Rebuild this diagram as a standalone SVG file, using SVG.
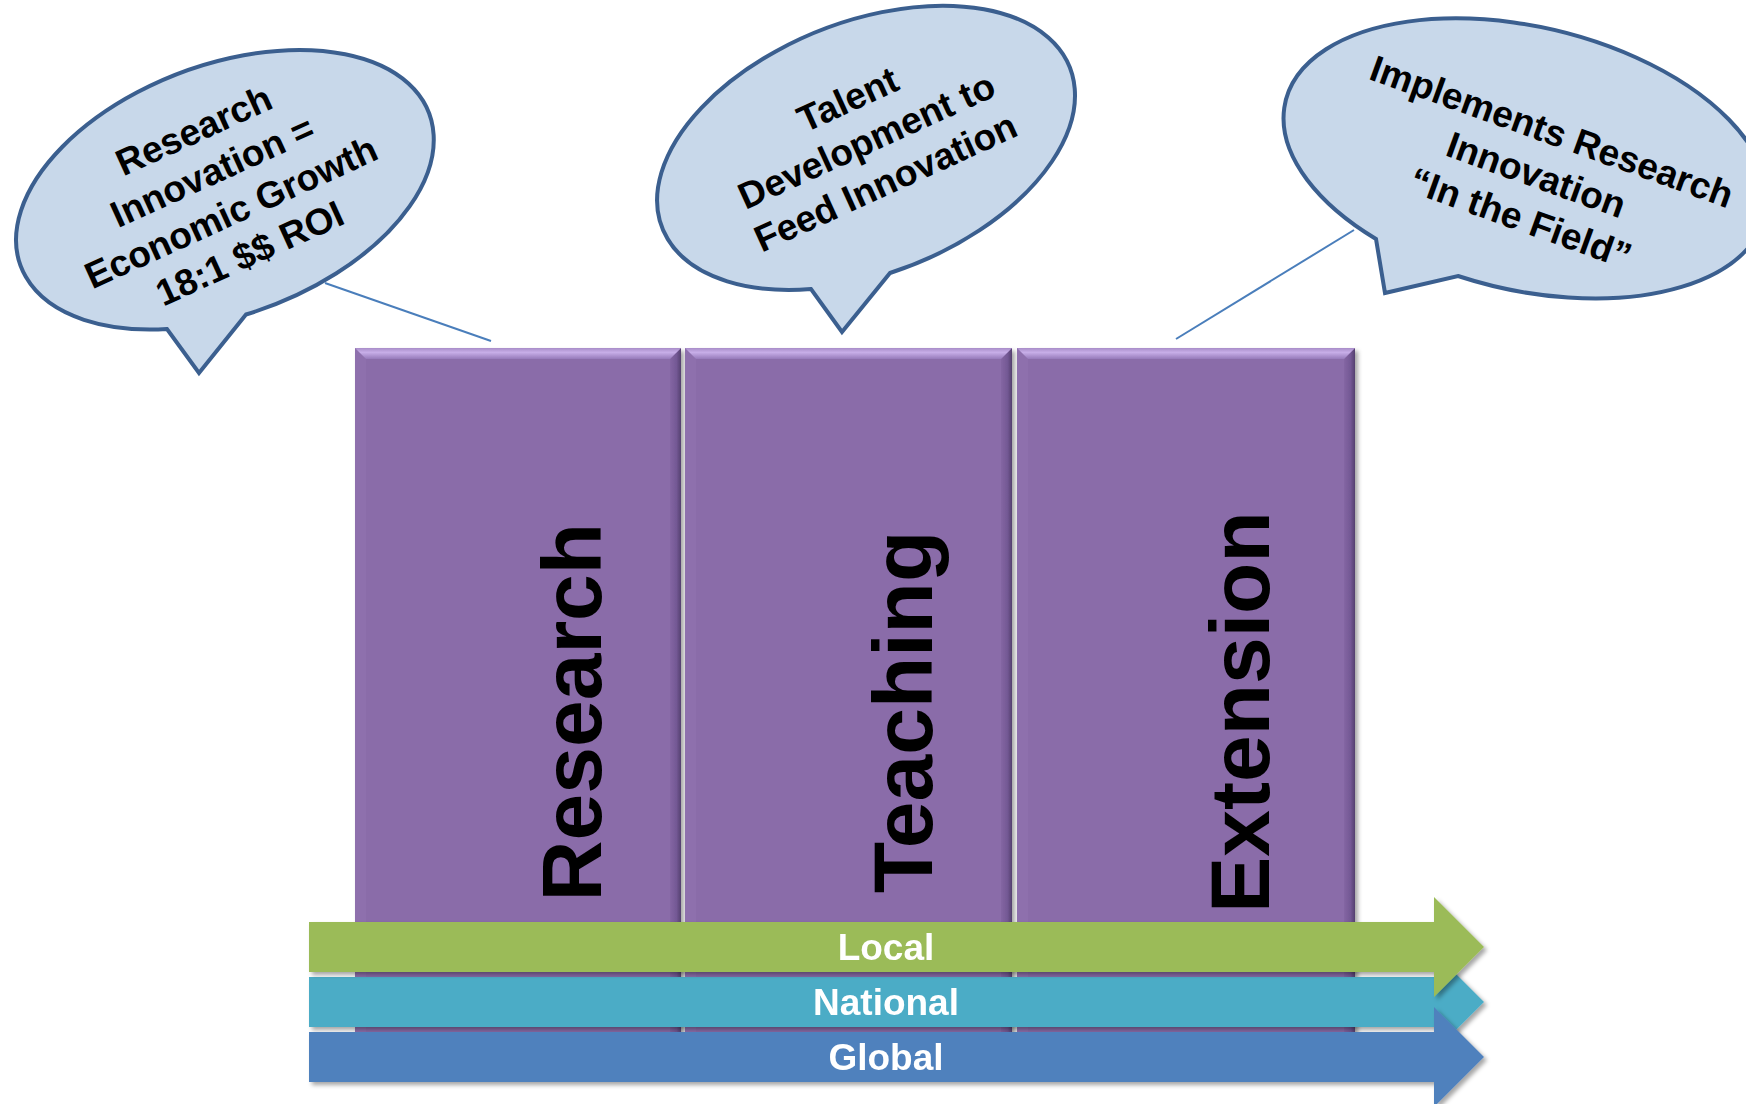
<svg xmlns="http://www.w3.org/2000/svg" width="1746" height="1104" viewBox="0 0 1746 1104">
<defs>
  <style>
    .callout { fill: #C8D8EA; stroke: #3B5F8F; stroke-width: 4; stroke-linejoin: miter; }
    .ctext { font-family: "Liberation Sans", Arial, sans-serif; font-weight: bold; font-size: 37px; fill: #000; text-anchor: middle; }
    .coltext { font-family: "Liberation Sans", Arial, sans-serif; font-weight: bold; font-size: 84px; fill: #000; text-anchor: middle; }
    .arrtext { font-family: "Liberation Sans", Arial, sans-serif; font-weight: bold; font-size: 37px; fill: #fff; text-anchor: middle; }
    .colmain { fill: #8A6CA9; }
    .coltop { fill: url(#topBevel); }
    .colleft { fill: #8E70AD; }
    .colright { fill: url(#rightBevel); }
    .conn { stroke: #4A7EBB; stroke-width: 2; fill: none; }
  </style>
  <linearGradient id="topBevel" x1="0" y1="0" x2="0" y2="1">
    <stop offset="0" stop-color="#A88CC8"/>
    <stop offset="0.4" stop-color="#C7AEE8"/>
    <stop offset="1" stop-color="#967ABA"/>
  </linearGradient>
  <linearGradient id="rightBevel" x1="0" y1="0" x2="1" y2="0">
    <stop offset="0" stop-color="#8466A3"/>
    <stop offset="0.6" stop-color="#735894"/>
    <stop offset="1" stop-color="#54406E"/>
  </linearGradient>
  <filter id="shadow" x="-10%" y="-10%" width="130%" height="130%">
    <feDropShadow dx="3" dy="3" stdDeviation="2" flood-color="#000" flood-opacity="0.35"/>
  </filter>
</defs>
<rect x="0" y="0" width="1746" height="1104" fill="#FFFFFF"/>

<g id="col-research" filter="url(#shadow)">
  <rect class="colmain" x="355" y="348" width="326" height="722"/>
  <polygon class="colleft" points="355,348 366,359 366,1070 355,1070"/>
  <polygon class="colright" points="681,348 681,1070 670,1070 670,359"/>
  <polygon class="coltop" points="355,348 681,348 670,359 366,359"/>
  <text class="coltext" transform="translate(601,712) rotate(-90)">Research</text>
</g>
<g id="col-teaching" filter="url(#shadow)">
  <rect class="colmain" x="685" y="348" width="327" height="722"/>
  <polygon class="colleft" points="685,348 696,359 696,1070 685,1070"/>
  <polygon class="colright" points="1012,348 1012,1070 1001,1070 1001,359"/>
  <polygon class="coltop" points="685,348 1012,348 1001,359 696,359"/>
  <text class="coltext" transform="translate(932,712) rotate(-90)">Teaching</text>
</g>
<g id="col-extension" filter="url(#shadow)">
  <rect class="colmain" x="1017" y="348" width="338" height="722"/>
  <polygon class="colleft" points="1017,348 1028,359 1028,1070 1017,1070"/>
  <polygon class="colright" points="1355,348 1355,1070 1344,1070 1344,359"/>
  <polygon class="coltop" points="1017,348 1355,348 1344,359 1028,359"/>
  <text class="coltext" transform="translate(1269,712) rotate(-90)">Extension</text>
</g>

<g id="arrow-national" filter="url(#shadow)">
  <path d="M309,977 H1434 V952 L1484,1002 L1434,1052 V1027 H309 Z" fill="#4BACC6"/>
  <text class="arrtext" x="886" y="1015">National</text>
</g>
<g id="arrow-local" filter="url(#shadow)">
  <path d="M309,922 H1434 V897 L1484,947 L1434,997 V972 H309 Z" fill="#9BBB59"/>
  <text class="arrtext" x="886" y="960">Local</text>
</g>
<g id="arrow-global" filter="url(#shadow)">
  <path d="M309,1032 H1434 V1007 L1484,1057 L1434,1107 V1082 H309 Z" fill="#4F81BD"/>
  <text class="arrtext" x="886" y="1070">Global</text>
</g>

<g id="connectors">
  <line class="conn" x1="325" y1="283" x2="491" y2="341"/>
  <line class="conn" x1="1354" y1="230" x2="1176" y2="339"/>
</g>

<g id="callout-research">
  <path class="callout" d="M246,314.5 A218 125 -20.5 1 0 167,329 L199,373 Z"/>
  <g transform="translate(199,142) rotate(-24.5)">
    <text class="ctext" x="0" y="0">Research</text>
    <text class="ctext" x="0" y="45">Innovation =</text>
    <text class="ctext" x="0" y="90">Economic Growth</text>
    <text class="ctext" x="0" y="135">18:1 $$ ROI</text>
  </g>
</g>
<g id="callout-teaching">
  <path class="callout" d="M890,273 A219 126 -21.5 1 0 811,289 L842,332 Z"/>
  <g transform="translate(853,111) rotate(-24.5)">
    <text class="ctext" x="0" y="0">Talent</text>
    <text class="ctext" x="0" y="45.5">Development to</text>
    <text class="ctext" x="0" y="91">Feed Innovation</text>
  </g>
</g>
<g id="callout-extension">
  <path class="callout" d="M1458,276 A246.7 131.6 13.3 1 0 1376,239 L1385,293 Z"/>
  <g transform="translate(1547.5,143.5) rotate(19.8)">
    <text class="ctext" x="0" y="0">Implements Research</text>
    <text class="ctext" x="0" y="46">Innovation</text>
    <text class="ctext" x="0" y="92">“In the Field”</text>
  </g>
</g>
</svg>
